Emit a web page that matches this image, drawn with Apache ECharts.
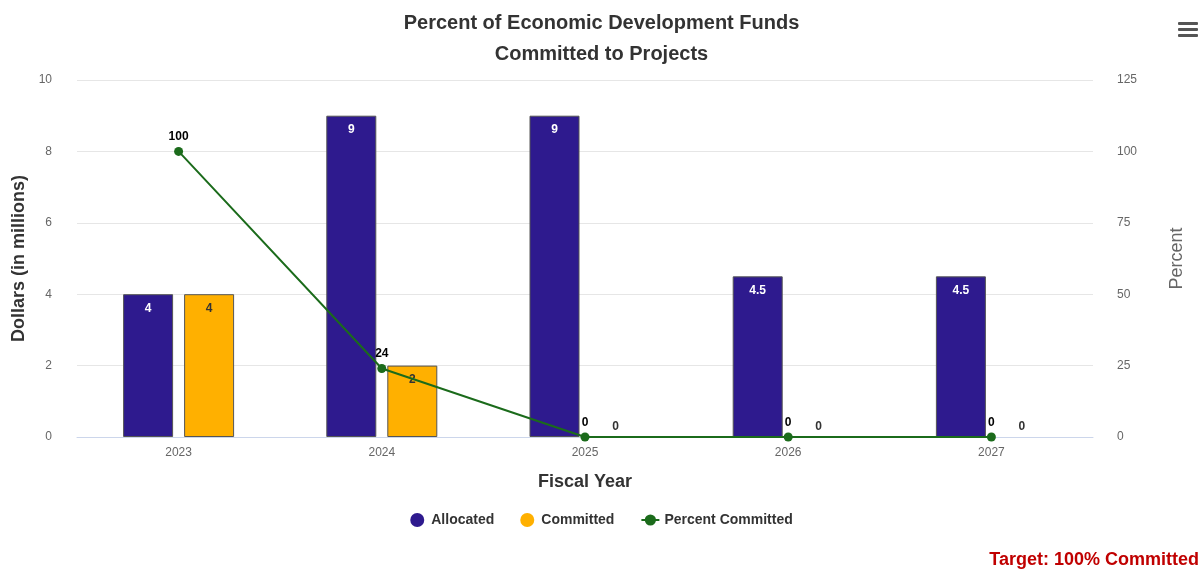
<!DOCTYPE html>
<html>
<head>
<meta charset="utf-8">
<script src="https://cdn.jsdelivr.net/npm/echarts@6/dist/echarts.min.js"></script>
<style>
  html, body { margin: 0; padding: 0; background: #fff; }
  #chart { width: 1203px; height: 569px; }
</style>
</head>
<body>
<div id="chart"></div>
<script>
const years = ['2023', '2024', '2025', '2026', '2027']
const allocated = [4, 9, 9, 4.5, 4.5]
const committed = [4, 2, 0, 0, 0]
const percentCommitted = [100, 24, 0, 0, 0]

const chart = echarts.init(document.getElementById('chart'))

// zero-height bars: no border, label sits above the axis like the original
const committedData = committed.map(v => v === 0
  ? { value: v, itemStyle: { borderWidth: 0 }, label: { position: 'top', distance: 4 } }
  : v)

const option = {
  animation: false,
  textStyle: { fontFamily: 'Liberation Sans, Arial, sans-serif' },
  title: {
    text: 'Percent of Economic Development Funds\nCommitted to Projects',
    left: 'center',
    top: 3,
    textStyle: { fontSize: 20, fontWeight: 'bold', color: '#333', lineHeight: 31 }
  },
  graphic: [
    {
      type: 'group',
      right: 5,
      top: 22,
      children: [
        { type: 'rect', shape: { x: 0, y: 0, width: 20, height: 3, r: 1 }, style: { fill: '#555' } },
        { type: 'rect', shape: { x: 0, y: 6, width: 20, height: 3, r: 1 }, style: { fill: '#555' } },
        { type: 'rect', shape: { x: 0, y: 12, width: 20, height: 3, r: 1 }, style: { fill: '#555' } }
      ]
    },
    {
      type: 'text',
      right: 4,
      bottom: 0,
      style: {
        text: 'Target: 100% Committed',
        fill: '#c00000',
        font: 'bold 18px Liberation Sans, Arial, sans-serif'
      }
    }
  ],
  legend: {
    bottom: 37,
    left: 'center',
    itemGap: 26,
    itemWidth: 18,
    itemHeight: 14,
    itemStyle: { borderWidth: 0 },
    textStyle: { fontSize: 14, fontWeight: 'bold', color: '#333' },
    data: [
      { name: 'Allocated', icon: 'circle' },
      { name: 'Committed', icon: 'circle' },
      { name: 'Percent Committed' }
    ]
  },
  grid: {
    left: 77,
    right: 110,
    top: 80,
    bottom: 132
  },
  xAxis: {
    type: 'category',
    data: years,
    name: 'Fiscal Year',
    nameLocation: 'middle',
    nameGap: 36,
    nameTextStyle: { fontSize: 18, fontWeight: 'bold', color: '#333' },
    axisLine: { lineStyle: { color: '#ccd6eb' } },
    axisTick: { alignWithLabel: true, length: 8, lineStyle: { color: '#ccd6eb' } },
    axisLabel: { color: '#666', fontSize: 12, margin: 10 }
  },
  yAxis: [
    {
      type: 'value',
      min: 0,
      max: 10,
      interval: 2,
      name: 'Dollars (in millions)',
      nameLocation: 'middle',
      nameGap: 47,
      nameTextStyle: { fontSize: 18, fontWeight: 'bold', color: '#333' },
      axisLine: { show: false },
      axisLabel: { color: '#666', fontSize: 12, margin: 25 },
      splitLine: { lineStyle: { color: '#e6e6e6' } }
    },
    {
      type: 'value',
      min: 0,
      max: 125,
      interval: 25,
      name: 'Percent',
      nameLocation: 'middle',
      nameGap: 75,
      nameRotate: 90,
      nameTextStyle: { fontSize: 18, color: '#666' },
      axisLine: { show: false },
      axisLabel: { color: '#666', fontSize: 12, margin: 24 },
      splitLine: { show: false }
    }
  ],
  series: [
    {
      name: 'Allocated',
      type: 'bar',
      data: allocated,
      barWidth: 50,
      barGap: '22%',
      itemStyle: { color: '#2e1a8e', borderColor: '#555', borderWidth: 1 },
      label: {
        show: true,
        position: 'insideTop',
        distance: 8,
        color: '#fff',
        fontSize: 12,
        fontWeight: 'bold'
      }
    },
    {
      name: 'Committed',
      type: 'bar',
      data: committedData,
      barWidth: 50,
      itemStyle: { color: '#ffb000', borderColor: '#555', borderWidth: 1 },
      label: {
        show: true,
        position: 'insideTop',
        distance: 8,
        color: '#333',
        fontSize: 12,
        fontWeight: 'bold'
      }
    },
    {
      name: 'Percent Committed',
      type: 'line',
      yAxisIndex: 1,
      data: percentCommitted,
      symbol: 'circle',
      symbolSize: 9,
      z: 5,
      lineStyle: { color: '#1b6b1b', width: 2 },
      itemStyle: { color: '#1b6b1b' },
      label: {
        show: true,
        position: 'top',
        distance: 4,
        color: '#000',
        fontSize: 12,
        fontWeight: 'bold'
      }
    }
  ]
}

chart.setOption(option)
window.addEventListener('resize', () => chart.resize())
</script>
</body>
</html>
